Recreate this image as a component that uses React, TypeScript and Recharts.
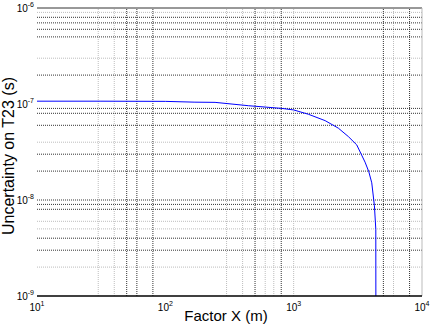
import React from "react";
import { LineChart, Line, XAxis, YAxis, ReferenceLine } from "recharts";

// curve (log-log)
const factorX = [10, 31, 100, 170, 244, 443, 807, 1000, 1303, 1758, 2230, 2667, 3101, 3600, 3850, 4060, 4258, 4365, 4370];
const uncertainty = [
  1.07e-7, 1.07e-7, 1.065e-7, 1.045e-7, 1.04e-7, 0.96e-7, 0.9e-7, 0.867e-7, 0.782e-7, 0.671e-7,
  0.56e-7, 0.458e-7, 0.375e-7, 0.248e-7, 1.97e-8, 1.51e-8, 8.7e-9, 4.96e-9, 1e-9,
];

const xTicks = [10, 100, 1000, 10000];
const yTicks = [1e-9, 1e-8, 1e-7, 1e-6];
const xTickExp = ["1", "2", "3", "4"];
const yTickExp = ["-9", "-8", "-7", "-6"];

// grid lines as they show up in the picture (dark vs light dotted)
const xGridDark = [50, 60, 80, 500, 800, 5000, 8000];
const xGridLight = [30, 40, 300, 400, 600, 700, 1000, 6000];
const yGridDark = [8e-7, 7e-7, 6e-7, 5e-7, 2e-7, 9e-8, 8e-8, 6e-8, 3e-8, 2e-8, 1e-8, 9e-9, 8e-9, 4e-9, 3e-9];
const yGridLight = [9e-7, 3e-7, 4e-8, 6e-9, 5e-9, 2e-9];

const data = factorX.map((x, i) => ({ x, y: uncertainty[i] }));

const font = "'Liberation Sans', Arial, sans-serif";

function XTick({ x, y, payload }: any) {
  const i = xTicks.indexOf(payload.value);
  return (
    <g transform={`translate(${x},${y})`}>
      <text x={0} y={7} textAnchor="middle" fontFamily={font} fontSize={10} fill="#000">
        <tspan>10</tspan>
        <tspan dy={-5} fontSize={7}>{xTickExp[i]}</tspan>
      </text>
    </g>
  );
}

function YTick({ y, payload }: any) {
  const i = yTicks.indexOf(payload.value);
  return (
    <g transform={`translate(34,${y})`}>
      <text x={0} y={4} textAnchor="end" fontFamily={font} fontSize={10} fill="#000">
        <tspan>10</tspan>
        <tspan dy={-5} fontSize={7}>{yTickExp[i]}</tspan>
      </text>
    </g>
  );
}

export default function App() {
  return (
    <div style={{ position: "absolute", left: 0, top: 0, width: 430, height: 326, background: "#fff" }}>
      <LineChart width={430} height={326} data={data} margin={{ top: 8, right: 8, left: 0, bottom: 0 }}>
        <XAxis
          dataKey="x"
          type="number"
          scale="log"
          domain={[10, 10000]}
          ticks={xTicks}
          interval={0}
          allowDataOverflow
          height={30}
          tickLine={false}
          axisLine={{ stroke: "#000", strokeWidth: 1.5 }}
          tick={<XTick />}
        />
        <YAxis
          type="number"
          scale="log"
          domain={[1e-9, 1e-6]}
          ticks={yTicks}
          interval={0}
          allowDataOverflow
          width={37}
          tickLine={false}
          axisLine={false}
          tick={<YTick />}
        />
        {xGridLight.map((v) => (
          <ReferenceLine key={"xl" + v} x={v} stroke="#bdbdbd" strokeDasharray="1 1" />
        ))}
        {yGridLight.map((v) => (
          <ReferenceLine key={"yl" + v} y={v} stroke="#bdbdbd" strokeDasharray="1 1" />
        ))}
        {xGridDark.map((v) => (
          <ReferenceLine key={"xd" + v} x={v} stroke="#333" strokeDasharray="1 1" />
        ))}
        {yGridDark.map((v) => (
          <ReferenceLine key={"yd" + v} y={v} stroke="#333" strokeDasharray="1 1" />
        ))}
        <ReferenceLine y={1e-6} stroke="#333" />
        <ReferenceLine x={10000} stroke="#bbb" />
        <Line type="linear" dataKey="y" stroke="#0000ff" strokeWidth={1} dot={false} isAnimationActive={false} />
      </LineChart>
      <div
        style={{
          position: "absolute",
          left: 226,
          top: 307,
          transform: "translateX(-50%)",
          fontFamily: font,
          fontSize: 15,
          whiteSpace: "nowrap",
          lineHeight: "17px",
        }}
      >
        Factor X (m)
      </div>
      <div
        style={{
          position: "absolute",
          left: 8.5,
          top: 156,
          transform: "translate(-50%, -50%) rotate(-90deg)",
          fontFamily: font,
          fontSize: 16,
          whiteSpace: "nowrap",
          lineHeight: "16px",
        }}
      >
        Uncertainty on T23 (s)
      </div>
    </div>
  );
}
